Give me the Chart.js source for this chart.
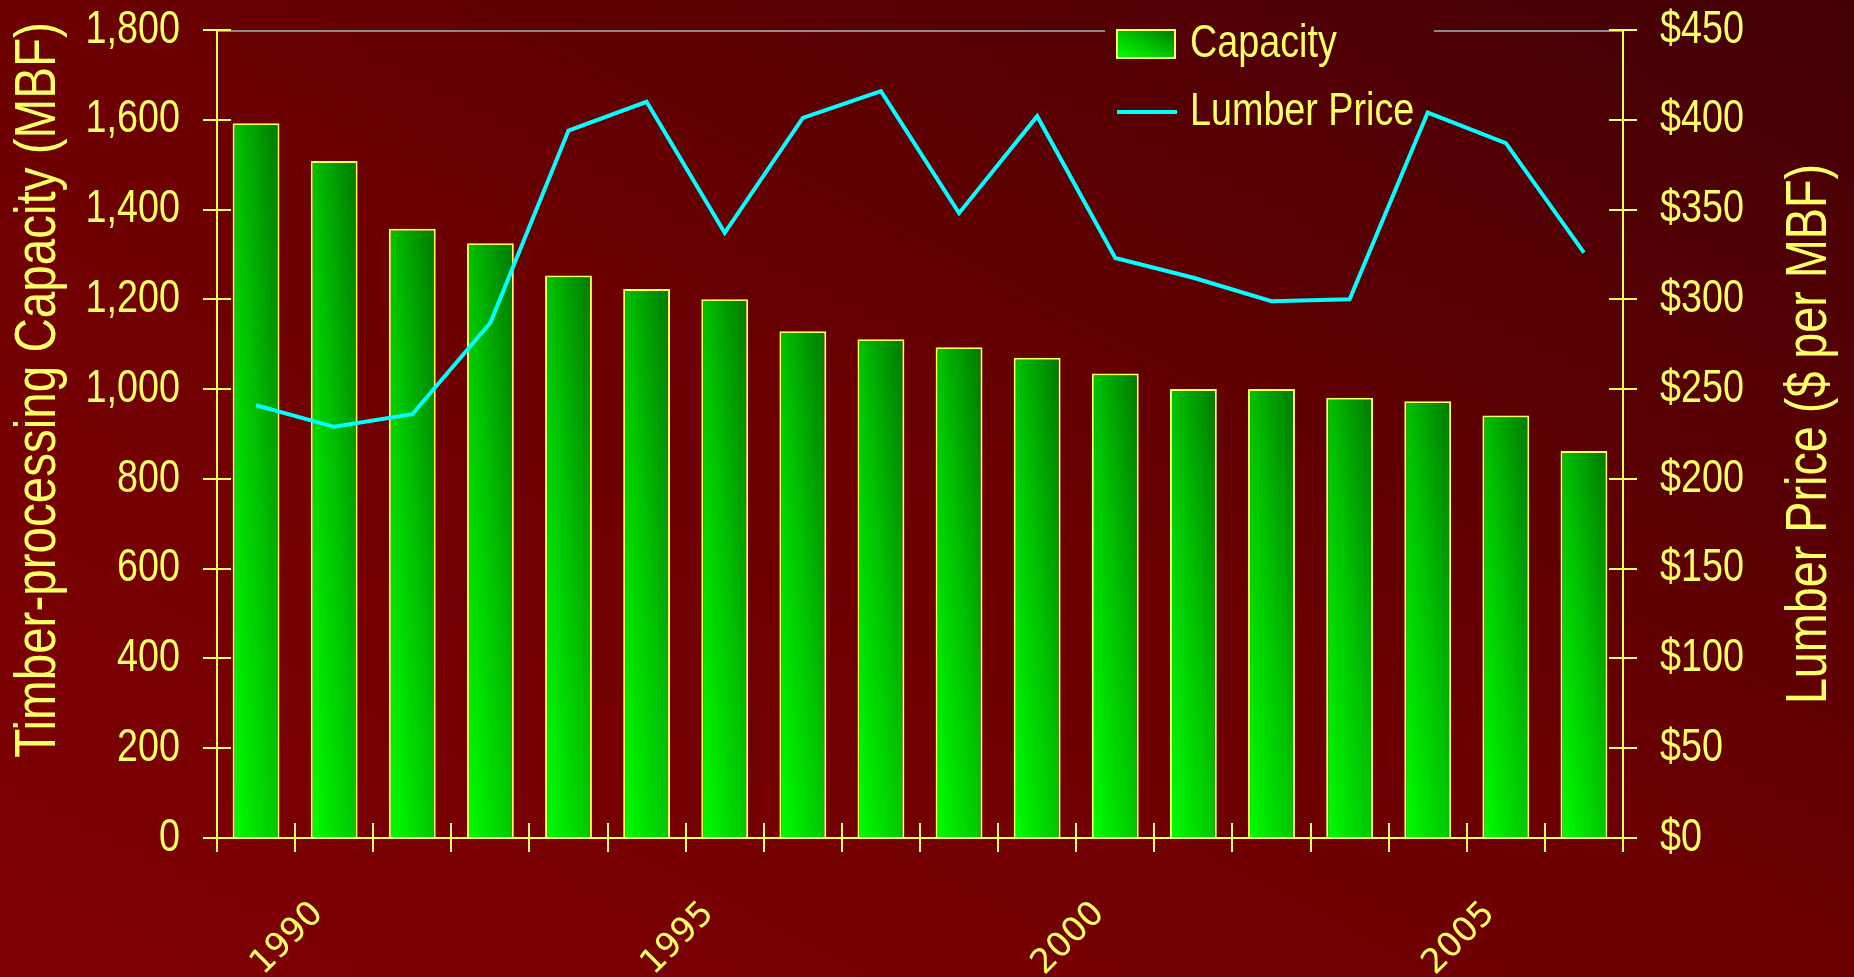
<!DOCTYPE html>
<html>
<head>
<meta charset="utf-8">
<title>Timber-processing capacity and lumber price</title>
<script src="https://cdn.jsdelivr.net/npm/chart.js@4.4.1/dist/chart.umd.min.js"></script>
<style>
  html, body { margin: 0; padding: 0; background: #6a0000; }
  #wrap { width: 1854px; height: 977px; }
</style>
</head>
<body>
<div id="wrap"><canvas id="chart" width="1854" height="977"></canvas></div>
<script>
// data
const years = ["1989", "1990", "1991", "1992", "1993", "1994", "1995", "1996", "1997",
               "1998", "1999", "2000", "2001", "2002", "2003", "2004", "2005", "2006"];
const capacity = [1592, 1508, 1357, 1325, 1253, 1223, 1200, 1129, 1111,
                  1093, 1070, 1035, 1000, 1000, 981, 973, 941, 862];
const lumberPrice = [241, 229, 236, 287, 394, 410, 337, 401, 416,
                     348, 402, 323, 312, 299, 300, 404, 387, 326];
const leftTitle = "Timber-processing Capacity (MBF)";
const rightTitle = "Lumber Price ($ per MBF)";

const yellow = "#ffff66";

// no narrow font installed: squeeze Liberation Sans to Arial Narrow widths
function narrowText(ctx, text, x, y, size, align, rot) {
  ctx.save();
  ctx.translate(x, y);
  if (rot) ctx.rotate(rot);
  ctx.scale(0.82, 1);
  ctx.font = size + "px 'Liberation Sans', Arial, sans-serif";
  ctx.textAlign = align;
  ctx.textBaseline = "middle";
  ctx.fillStyle = yellow;
  ctx.fillText(text, 0, 0);
  ctx.restore();
}

// gradient stretched over a box, like office "diagonal up" fills
function boxGradient(ctx, left, top, w, h, stops) {
  const gx = 1 / (2 * w), gy = -1 / (2 * h);
  const n = gx * gx + gy * gy;
  const pts = [left, top + h, left + gx / n, top + h + gy / n];
  if (!pts.every(Number.isFinite)) return stops[1][1];
  const g = ctx.createLinearGradient(pts[0], pts[1], pts[2], pts[3]);
  stops.forEach(s => g.addColorStop(s[0], s[1]));
  return g;
}
const greenStops = [[0, "#00ff00"], [0.5, "#00c400"], [1, "#007800"]];

function barFill(c) {
  const chart = c.chart;
  const x = chart.scales.x, y = chart.scales.y;
  if (!x || !y || c.type !== "data") return "#00c000";
  const w = (x.getPixelForValue(1) - x.getPixelForValue(0)) * 0.6;
  const cx = x.getPixelForValue(c.dataIndex);
  const top = y.getPixelForValue(c.raw), bottom = y.getPixelForValue(0);
  if (!(w > 0) || !(bottom - top > 0)) return "#00c000";
  return boxGradient(chart.ctx, cx - w / 2, top, w, bottom - top, greenStops);
}

const background = {
  id: "background",
  beforeDraw(chart) {
    const { ctx, width, height } = chart;
    ctx.save();
    ctx.fillStyle = boxGradient(ctx, 0, 0, width, height,
      [[0, "#800000"], [0.5, "#6c0000"], [1, "#420005"]]);
    ctx.fillRect(0, 0, width, height);
    ctx.restore();
  }
};

const legendBox = { left: 1105, right: 1434 };

const frame = {
  id: "frame",
  beforeDatasetsDraw(chart) {
    const { ctx, chartArea: a } = chart;
    ctx.save();
    ctx.strokeStyle = "#8a8a8a";
    ctx.lineWidth = 2;
    ctx.beginPath();
    ctx.moveTo(a.left, a.top + 1);
    ctx.lineTo(legendBox.left, a.top + 1);
    ctx.moveTo(legendBox.right, a.top + 1);
    ctx.lineTo(a.right, a.top + 1);
    ctx.stroke();
    ctx.restore();
  },
  afterDraw(chart) {
    const { ctx, chartArea: a, scales } = chart;
    ctx.save();
    ctx.strokeStyle = yellow;
    ctx.lineWidth = 2;
    ctx.beginPath();
    // axis lines
    ctx.moveTo(a.left, a.top); ctx.lineTo(a.left, a.bottom);
    ctx.moveTo(a.right, a.top); ctx.lineTo(a.right, a.bottom);
    ctx.moveTo(a.left, a.bottom); ctx.lineTo(a.right, a.bottom);
    // tick marks crossing the axes
    scales.y.ticks.forEach((t, i) => {
      const p = Math.round(scales.y.getPixelForTick(i));
      ctx.moveTo(a.left - 14, p); ctx.lineTo(a.left + 14, p);
    });
    scales.y2.ticks.forEach((t, i) => {
      const p = Math.round(scales.y2.getPixelForTick(i));
      ctx.moveTo(a.right - 14, p); ctx.lineTo(a.right + 14, p);
    });
    const half = (scales.x.getPixelForValue(1) - scales.x.getPixelForValue(0)) / 2;
    for (let i = 0; i <= years.length; i++) {
      const p = Math.round(scales.x.getPixelForValue(i) - half);
      ctx.moveTo(p, a.bottom - 15); ctx.lineTo(p, a.bottom + 14);
    }
    ctx.stroke();

    // value labels of both y axes
    scales.y.ticks.forEach((t, i) => {
      narrowText(ctx, t.value.toLocaleString("en-US"), a.left - 37, scales.y.getPixelForTick(i), 46, "right");
    });
    scales.y2.ticks.forEach((t, i) => {
      narrowText(ctx, "$" + t.value, a.right + 37, scales.y2.getPixelForTick(i), 46, "left");
    });

    // axis titles, both read bottom to top
    narrowText(ctx, leftTitle, 39, 390, 58, "center", -Math.PI / 2);
    narrowText(ctx, rightTitle, 1810, (a.top + a.bottom) / 2, 57, "center", -Math.PI / 2);

    // legend
    const ds = chart.data.datasets;
    ctx.fillStyle = boxGradient(ctx, 1117, 30, 58, 28, greenStops);
    ctx.fillRect(1117, 30, 58, 28);
    ctx.strokeStyle = yellow;
    ctx.lineWidth = 2;
    ctx.strokeRect(1117, 30, 58, 28);
    narrowText(ctx, ds[1].label, 1190, 44, 46, "left");
    ctx.strokeStyle = ds[0].borderColor;
    ctx.lineWidth = 4;
    ctx.beginPath();
    ctx.moveTo(1117, 112); ctx.lineTo(1177, 112);
    ctx.stroke();
    narrowText(ctx, ds[0].label, 1190, 112, 46, "left");
    ctx.restore();
  }
};

new Chart(document.getElementById("chart"), {
  type: "bar",
  data: {
    labels: years,
    datasets: [
      {
        type: "line",
        label: "Lumber Price",
        data: lumberPrice,
        yAxisID: "y2",
        borderColor: "#00ffff",
        borderWidth: 4,
        pointRadius: 0,
        tension: 0,
        order: 0
      },
      {
        type: "bar",
        label: "Capacity",
        data: capacity,
        yAxisID: "y",
        backgroundColor: barFill,
        borderColor: yellow,
        borderWidth: 2,
        categoryPercentage: 1,
        barPercentage: 0.6,
        order: 1
      }
    ]
  },
  options: {
    responsive: false,
    animation: false,
    events: [],
    layout: { padding: { top: 30, left: 0, right: 0, bottom: 0 } },
    plugins: { legend: { display: false }, tooltip: { enabled: false } },
    scales: {
      x: {
        offset: true,
        grid: { display: false, drawTicks: false },
        border: { display: false },
        afterFit: s => { s.height = 139; s.paddingLeft = 0; s.paddingRight = 0; },
        ticks: {
          autoSkip: false,
          minRotation: 45,
          maxRotation: 45,
          padding: 56,
          labelOffset: -16,
          color: yellow,
          font: { family: "'DejaVu Sans', sans-serif", size: 34 },
          callback: function (v) {
            const yr = this.getLabelForValue(v);
            return Number(yr) % 5 === 0 ? yr : "";
          }
        }
      },
      y: {
        position: "left",
        min: 0,
        max: 1800,
        grid: { display: false, drawTicks: false },
        border: { display: false },
        afterFit: s => { s.width = 217; s.paddingTop = 0; s.paddingBottom = 0; },
        ticks: { display: false, stepSize: 200 }
      },
      y2: {
        position: "right",
        min: 0,
        max: 450,
        grid: { display: false, drawTicks: false },
        border: { display: false },
        afterFit: s => { s.width = 231; s.paddingTop = 0; s.paddingBottom = 0; },
        ticks: { display: false, stepSize: 50 }
      }
    }
  },
  plugins: [background, frame]
});
</script>
</body>
</html>
